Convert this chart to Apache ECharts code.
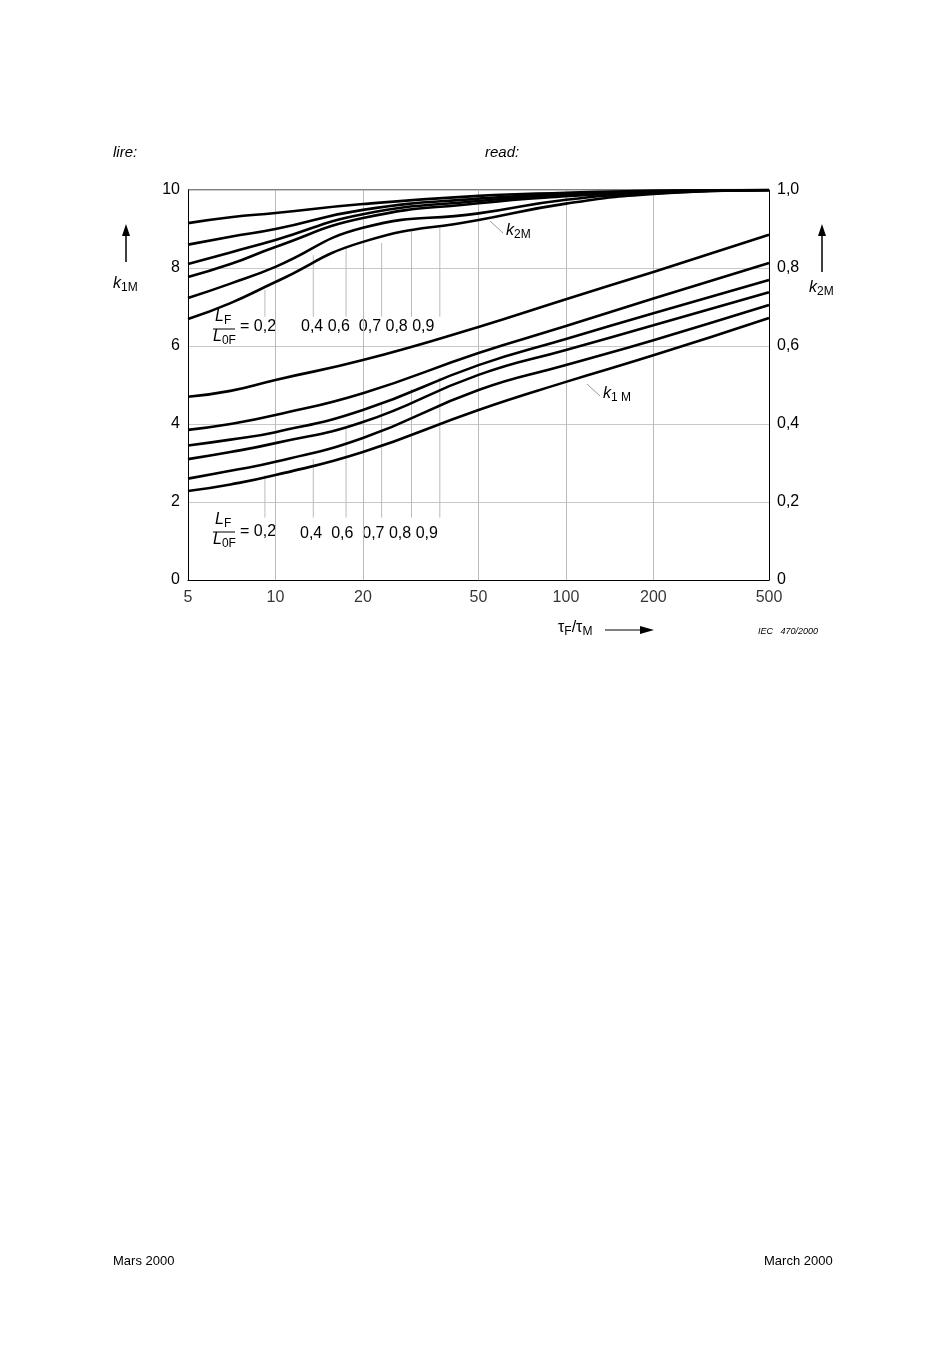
<!DOCTYPE html>
<html>
<head>
<meta charset="utf-8">
<script src="https://cdn.jsdelivr.net/npm/echarts@6/dist/echarts.min.js"></script>
<style>html,body{margin:0;padding:0;background:#fff}#chart{width:950px;height:1345px}</style>
</head>
<body>
<div id="chart"></div>
<script>
var ratios = ['0,2', '0,4', '0,6', '0,7', '0,8', '0,9'];
var tau = [5, 7, 10, 20, 50, 100, 200, 500];
var xTicks = [5, 10, 20, 50, 100, 200, 500];
var k1M = [
  [4.7, 4.85, 5.13, 5.64, 6.49, 7.2, 7.9, 8.85],
  [3.85, 4.0, 4.23, 4.79, 5.82, 6.51, 7.22, 8.13],
  [3.45, 3.6, 3.79, 4.36, 5.51, 6.18, 6.84, 7.69],
  [3.1, 3.28, 3.51, 4.05, 5.26, 5.9, 6.53, 7.38],
  [2.6, 2.8, 3.03, 3.64, 4.87, 5.51, 6.15, 7.05],
  [2.28, 2.45, 2.69, 3.28, 4.36, 5.08, 5.76, 6.72]
];
var k2M = [
  [0.915, 0.93, 0.941, 0.964, 0.985, 0.993, 0.998, 1],
  [0.86, 0.88, 0.90, 0.949, 0.978, 0.99, 0.997, 1],
  [0.81, 0.84, 0.872, 0.938, 0.972, 0.987, 0.996, 1],
  [0.777, 0.81, 0.854, 0.928, 0.966, 0.984, 0.995, 1],
  [0.723, 0.76, 0.803, 0.903, 0.94, 0.975, 0.992, 1],
  [0.669, 0.71, 0.764, 0.867, 0.923, 0.965, 0.99, 1]
];
// leader lines from the ratio labels
var leaderX = [9.2, 13.5, 17.5, 23.2, 29.4, 36.8];
var leaderTopUpper = [7.44, 8.33, 8.54, 8.64, 8.97, 9.03];
var leaderTopLower = [2.69, 3.1, 3.9, 4.5, 4.9, 5.2];

var chart = echarts.init(document.getElementById('chart'));
var font = 'Liberation Sans, Arial, sans-serif';
var series = [];
function pairs(arr) { return tau.map(function (t, i) { return [t, arr[i]]; }); }
k1M.forEach(function (s, i) {
  series.push({ type: 'line', name: 'k1M ' + ratios[i], data: pairs(s), smooth: true, showSymbol: false,
    lineStyle: { color: '#000', width: 2.6 }, z: 5 });
});
k2M.forEach(function (s, i) {
  series.push({ type: 'line', name: 'k2M ' + ratios[i], yAxisIndex: 1, data: pairs(s), smooth: true, showSymbol: false,
    lineStyle: { color: '#000', width: 2.6 }, z: 5 });
});
leaderX.forEach(function (x, i) {
  series.push({ type: 'line', data: [[x, 6.75], [x, leaderTopUpper[i]]], showSymbol: false,
    lineStyle: { color: '#bbb', width: 1 }, z: 2 });
  series.push({ type: 'line', data: [[x, 1.6], [x, leaderTopLower[i]]], showSymbol: false,
    lineStyle: { color: '#bbb', width: 1 }, z: 2 });
});
// vertical grid lines and x tick labels
series.push({ type: 'scatter', data: xTicks.map(function (t) { return [t, 0]; }), symbolSize: 0, clip: false,
  label: { show: true, position: 'bottom', distance: 10, color: '#000', fontSize: 16, fontFamily: font,
    formatter: function (p) { return p.value[0]; } },
  markLine: { silent: true, symbol: 'none', label: { show: false },
    lineStyle: { color: '#bbb', width: 1, type: 'solid' },
    data: [10, 20, 50, 100, 200].map(function (v) { return { xAxis: v }; }) } });

var txt = function (x, y, t, extra) {
  return { type: 'text', left: x, top: y, style: Object.assign({ text: t, fill: '#000', font: '16px ' + font, rich: rich }, extra || {}) };
};
var rich = {
  i: { fontStyle: 'italic', fontSize: 16, fontFamily: font },
  s: { fontSize: 12, fontFamily: font, padding: [8, 0, 0, 0] }
};
var frac = function (x, y) {
  return [
    txt(x + 2, y, '{i|L}{s|F}'),
    { type: 'line', shape: { x1: x, y1: y + 20, x2: x + 22, y2: y + 20 }, style: { stroke: '#000', lineWidth: 1 } },
    txt(x, y + 20, '{i|L}{s|0F}')
  ];
};
var graphics = [
  txt(113, 145, 'lire:', { font: 'italic 15px ' + font }),
  txt(485, 145, 'read:', { font: 'italic 15px ' + font }),
  txt(113, 1255, 'Mars 2000', { font: '13px ' + font }),
  txt(764, 1255, 'March 2000', { font: '13px ' + font }),
  txt(758, 627, 'IEC   470/2000', { font: 'italic 9px ' + font }),
  { type: 'line', shape: { x1: 126, y1: 262, x2: 126, y2: 232 }, style: { stroke: '#000', lineWidth: 1.5 } },
  { type: 'polygon', shape: { points: [[126, 224], [122, 236], [130, 236]] }, style: { fill: '#000' } },
  txt(113, 276, '{i|k}{s|1M}'),
  { type: 'line', shape: { x1: 822, y1: 272, x2: 822, y2: 232 }, style: { stroke: '#000', lineWidth: 1.5 } },
  { type: 'polygon', shape: { points: [[822, 224], [818, 236], [826, 236]] }, style: { fill: '#000' } },
  txt(809, 280, '{i|k}{s|2M}'),
  txt(558, 620, '{t|τ}{s|F}{t|/τ}{s|M}', { rich: { t: { fontSize: 16, fontFamily: font }, s: rich.s } }),
  { type: 'line', shape: { x1: 605, y1: 630, x2: 642, y2: 630 }, style: { stroke: '#000', lineWidth: 1 } },
  { type: 'polygon', shape: { points: [[654, 630], [640, 626], [640, 634]] }, style: { fill: '#000' } },
  txt(506, 223, '{i|k}{s|2M}'),
  { type: 'line', shape: { x1: 490, y1: 221, x2: 503, y2: 233 }, style: { stroke: '#999', lineWidth: 1 } },
  txt(603, 386, '{i|k}{s|1 M}'),
  { type: 'line', shape: { x1: 587, y1: 384, x2: 600, y2: 396 }, style: { stroke: '#999', lineWidth: 1 } },
  txt(240, 319, '= 0,2'),
  txt(301, 319, '0,4 0,6  0,7 0,8 0,9'),
  txt(240, 524, '= 0,2'),
  txt(300, 526, '0,4  0,6  0,7 0,8 0,9')
].concat(frac(213, 309), frac(213, 512));

chart.setOption({
  animation: false,
  backgroundColor: '#fff',
  grid: { left: 188, right: 181, top: 190, bottom: 765 },
  xAxis: { type: 'log', min: 5, max: 500, logBase: 10,
    axisLine: { lineStyle: { color: '#000', width: 1 } }, axisTick: { show: false },
    axisLabel: { show: false }, splitLine: { show: false }, minorTick: { show: false } },
  yAxis: [
    { type: 'value', min: 0, max: 10, interval: 2, position: 'left',
      axisLine: { show: true, lineStyle: { color: '#000' } }, axisTick: { show: false },
      axisLabel: { color: '#000', fontSize: 16, fontFamily: font, margin: 8 },
      splitLine: { lineStyle: { color: '#c8c8c8', width: 1 } } },
    { type: 'value', min: 0, max: 1, interval: 0.2, position: 'right',
      axisLine: { show: true, lineStyle: { color: '#000' } }, axisTick: { show: false },
      axisLabel: { color: '#000', fontSize: 16, fontFamily: font, margin: 8,
        formatter: function (v) { return v === 0 ? '0' : v.toFixed(1).replace('.', ','); } },
      splitLine: { show: false } }
  ],
  graphic: graphics,
  series: series
});
// top border of plot
chart.setOption({ graphic: graphics.concat([{ type: 'line', shape: { x1: 188, y1: 190, x2: 769, y2: 190 }, style: { stroke: '#000', lineWidth: 1 } }]) });
</script>
</body>
</html>
